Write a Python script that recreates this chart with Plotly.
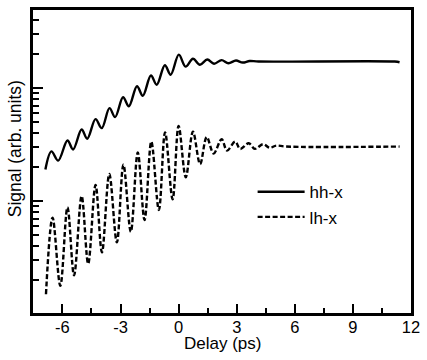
import plotly.graph_objects as go

# ---- data (delay in ps, signal in arb. units) ----
hh_delay = [-6.88, -6.57, -6.22, -5.74, -5.45, -5.01, -4.72, -4.29, -3.97, -3.57,
            -3.28, -2.87, -2.57, -2.15, -1.85, -1.43, -1.13, -0.71, -0.41, 0.01,
            0.36, 0.74, 1.10, 1.48, 1.83, 2.22, 2.57, 2.96, 3.31, 3.67,
            4.13, 11.16, 11.41]
hh_signal = [1.90, 2.75, 2.28, 3.43, 2.86, 4.29, 3.56, 5.31, 4.42, 6.64,
             5.53, 8.28, 6.90, 10.38, 8.55, 12.91, 10.69, 15.92, 13.12, 19.72,
             15.45, 18.16, 16.07, 17.86, 16.41, 17.66, 16.56, 17.50, 16.79, 17.34,
             17.14, 17.14, 16.90]

lh_delay = [-6.85, -6.51, -6.11, -5.74, -5.40, -5.01, -4.67, -4.29, -3.96, -3.58,
            -3.19, -2.85, -2.47, -2.11, -1.76, -1.41, -1.02, -0.70, -0.31, 0.00,
            0.37, 0.74, 1.11, 1.45, 1.81, 2.22, 2.50, 2.92, 3.18, 3.62,
            3.94, 4.37, 4.70, 5.04, 5.55, 11.41]
lh_signal = [0.150, 0.714, 0.178, 0.881, 0.220, 1.107, 0.279, 1.390, 0.352, 1.734,
             0.431, 2.099, 0.535, 2.692, 0.681, 3.357, 0.834, 4.055, 1.035, 4.624,
             1.626, 4.111, 2.123, 3.681, 2.636, 3.532, 2.799, 3.357, 2.891, 3.243,
             2.897, 3.184, 2.958, 3.097, 3.034, 3.034]

x_tickvals = [-6, -3, 0, 3, 6, 9, 12]
x_ticktext = ["-6", "-3", "0", "3", "6", "9", "12"]
x_minor = [-4.5, -1.5, 1.5, 4.5, 7.5, 10.5]
y_tickvals = [1, 10]
y_minor = [0.2, 0.3, 0.4, 0.5, 0.6, 0.7, 0.8, 0.9,
           2, 3, 4, 5, 6, 7, 8, 9, 20, 30, 40]

FONT = "Liberation Sans, Arial, sans-serif"

fig = go.Figure()
fig.add_trace(go.Scatter(
    x=hh_delay, y=hh_signal, mode="lines", name="hh-x",
    line=dict(color="black", width=2.4, shape="spline", smoothing=1.0)))
fig.add_trace(go.Scatter(
    x=lh_delay, y=lh_signal, mode="lines", name="lh-x",
    line=dict(color="black", width=2.4, dash="5px,2.5px", shape="spline", smoothing=1.0)))

fig.update_layout(
    width=427, height=360,
    margin=dict(l=33, r=10, t=7, b=47),
    paper_bgcolor="white", plot_bgcolor="white",
    font=dict(family=FONT, size=17, color="black"),
    showlegend=True,
    legend=dict(x=0.581, y=0.458, xanchor="left", yanchor="top",
                bgcolor="rgba(0,0,0,0)", font=dict(size=17, family=FONT),
                itemwidth=47, tracegroupgap=0),
    annotations=[
        dict(text="Signal (arb. units)", textangle=-90,
             xref="paper", yref="paper", x=-0.049, y=0.542,
             xanchor="center", yanchor="middle", showarrow=False,
             font=dict(size=17.5, family=FONT)),
        dict(text="Delay (ps)",
             xref="paper", yref="paper", x=0.5, y=-0.1,
             xanchor="center", yanchor="middle", showarrow=False,
             font=dict(size=17, family=FONT)),
    ],
)

fig.update_xaxes(
    range=[-7.52, 12], tickvals=x_tickvals, ticktext=x_ticktext,
    ticks="inside", ticklen=9, tickwidth=2, tickcolor="black",
    minor=dict(tickvals=x_minor, ticks="inside", ticklen=5, tickwidth=2, tickcolor="black"),
    showline=True, linewidth=2.5, linecolor="black", mirror=True,
    showgrid=False, zeroline=False,
    tickfont=dict(size=16.5, family=FONT), ticklabelstandoff=-3,
)
fig.update_yaxes(
    type="log", range=[-0.99, 1.69], tickvals=y_tickvals, showticklabels=False,
    ticks="inside", ticklen=10, tickwidth=2, tickcolor="black",
    minor=dict(tickvals=y_minor, ticks="inside", ticklen=6, tickwidth=2, tickcolor="black"),
    showline=True, linewidth=2.5, linecolor="black", mirror=True,
    showgrid=False, zeroline=False,
)

fig.write_html("out.html")
